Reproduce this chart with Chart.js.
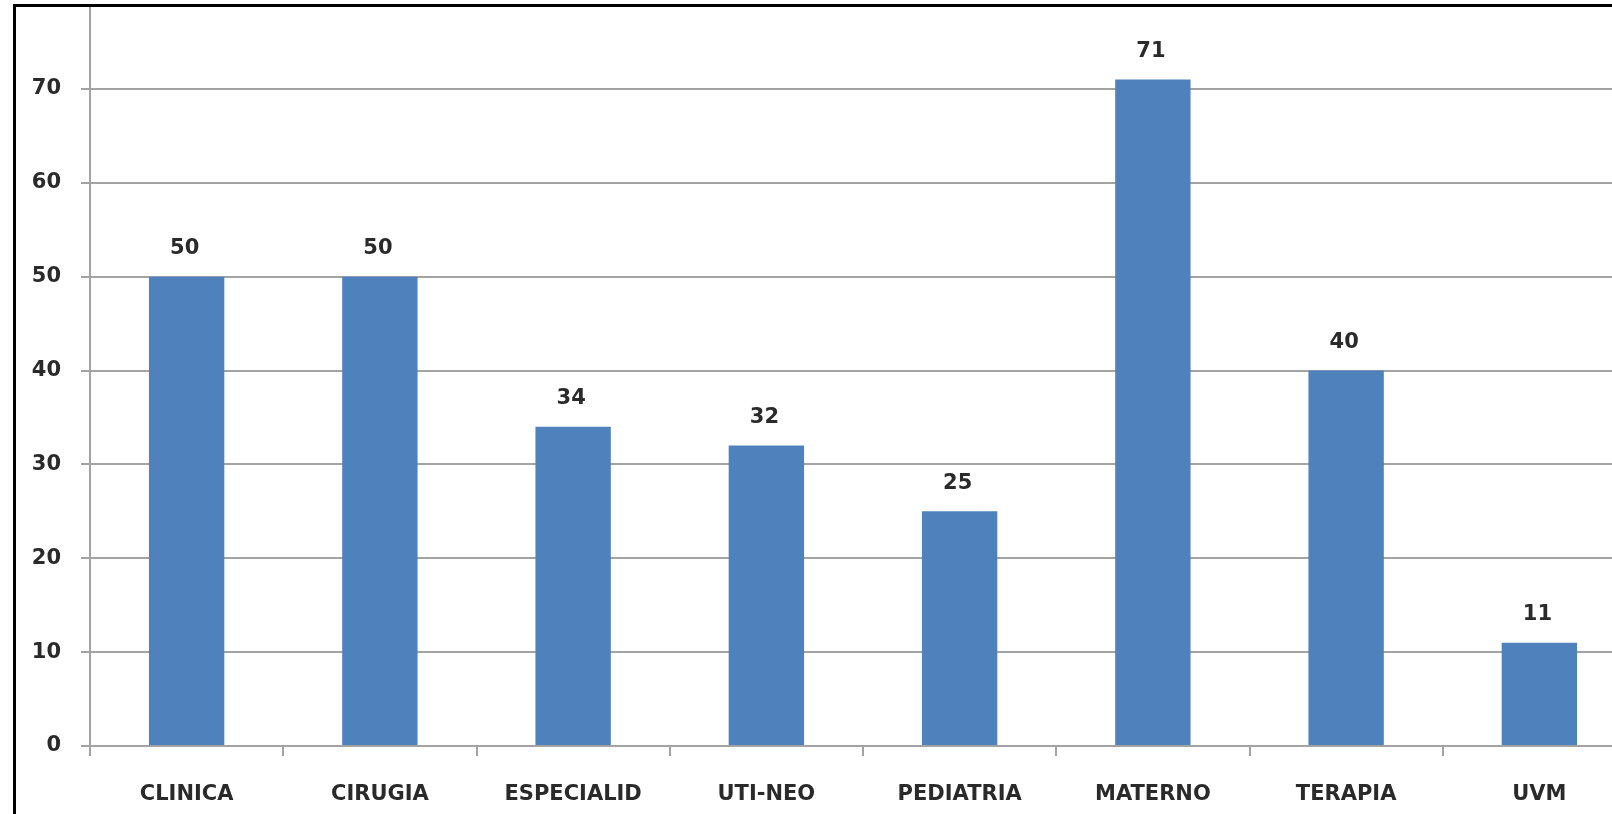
<!DOCTYPE html>
<html lang="es">
<head>
<meta charset="utf-8">
<title>Servicios</title>
<script src="https://cdn.jsdelivr.net/npm/chart.js@4/dist/chart.umd.min.js"></script>
<style>
  html, body {
    margin: 0;
    padding: 0;
    width: 1612px;
    height: 814px;
    overflow: hidden;
    background: #fff;
  }
  #frame {
    position: absolute;
    left: 13px;
    top: 4px;
    width: 1612px;
    height: 830px;
    border-left: 3px solid #000;
    border-top: 3px solid #000;
    overflow: hidden;
    background: #fff;
  }
  #chart {
    position: absolute;
    left: 0;
    top: -28px;
  }
</style>
</head>
<body>
<div id="frame">
  <canvas id="chart" width="1640" height="840"></canvas>
</div>
<script>
const SERVICIOS = ["CLINICA", "CIRUGIA", "ESPECIALID", "UTI-NEO", "PEDIATRIA", "MATERNO", "TERAPIA", "UVM"];
const CANTIDAD = [50, 50, 34, 32, 25, 71, 40, 11];
const Y_MIN = 0;
const Y_MAX = 80;
const Y_STEP = 10;

const AXIS_GREY = "#a3a3a3";
const TEXT_DARK = "#2a2a2a";
const BAR_BLUE = "#4f81bd";
const FONT = { family: "'DejaVu Sans', sans-serif", size: 21, weight: "bold" };

// writes each bar's value just above it
const valueLabels = {
  id: "valueLabels",
  afterDatasetsDraw(chart) {
    const { ctx } = chart;
    const meta = chart.getDatasetMeta(0);
    ctx.save();
    ctx.font = `${FONT.weight} ${FONT.size}px ${FONT.family}`;
    ctx.fillStyle = TEXT_DARK;
    ctx.textAlign = "center";
    ctx.textBaseline = "middle";
    meta.data.forEach((bar, i) => {
      ctx.fillText(String(CANTIDAD[i]), bar.x - 2, bar.y - 28);
    });
    ctx.restore();
  },
};

// fixed axis sizes so the plot area lands where we want it
function fixX(s) {
  s.height = 73;
  s.paddingLeft = 0;
  s.paddingRight = 0;
}
function fixY(s) {
  s.width = 74;
  s.paddingTop = 0;
  s.paddingBottom = 0;
}

new Chart(document.getElementById("chart"), {
  type: "bar",
  data: {
    labels: SERVICIOS,
    datasets: [
      {
        data: CANTIDAD,
        backgroundColor: BAR_BLUE,
        borderWidth: 0,
        categoryPercentage: 1,
        barPercentage: 0.39,
      },
    ],
  },
  options: {
    responsive: false,
    animation: false,
    layout: { padding: { top: 16, right: 20, left: 0, bottom: 0 } },
    plugins: {
      legend: { display: false },
      tooltip: { enabled: false },
    },
    scales: {
      x: {
        grid: {
          drawOnChartArea: false,
          drawTicks: true,
          tickLength: 10,
          color: AXIS_GREY,
          lineWidth: 2,
        },
        border: { display: true, color: AXIS_GREY, width: 2 },
        ticks: { color: TEXT_DARK, font: FONT, padding: 26, maxRotation: 0, autoSkip: false },
        afterFit: fixX,
      },
      y: {
        min: Y_MIN,
        max: Y_MAX,
        grid: {
          color: AXIS_GREY,
          lineWidth: 2,
          drawTicks: true,
          tickLength: 9,
        },
        border: { display: true, color: AXIS_GREY, width: 2 },
        ticks: { stepSize: Y_STEP, color: TEXT_DARK, font: FONT, padding: 20 },
        afterFit: fixY,
      },
    },
  },
  plugins: [valueLabels],
});
</script>
</body>
</html>
